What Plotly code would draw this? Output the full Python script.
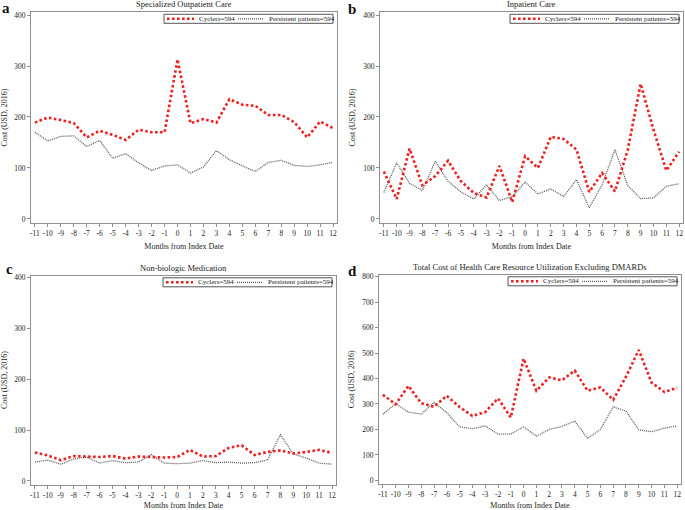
import plotly.graph_objects as go

months = list(range(-11, 13))
month_labels = [str(m) for m in months]

# Panel a: Specialized Outpatient Care
a_cyclers = [189, 199, 194, 188, 160, 173, 165, 155, 175, 170, 170, 313,
             188, 196, 189, 235, 224, 222, 204, 204, 190, 160, 191, 178]
a_persistent = [170, 153, 162, 163, 142, 154, 119, 128, 110, 95, 104, 106,
                90, 102, 134, 116, 104, 93, 111, 115, 105, 103, 106, 111]

# Panel b: Inpatient Care
b_cyclers = [93, 39, 138, 66, 84, 114, 74, 51, 42, 104, 33, 123,
             100, 161, 157, 136, 53, 90, 54, 136, 265, 175, 95, 132]
b_persistent = [52, 110, 70, 56, 113, 74, 53, 39, 67, 36, 44, 72,
                49, 59, 44, 77, 22, 67, 136, 65, 40, 41, 64, 69]

# Panel c: Non-biologic Medication
c_cyclers = [56, 50, 41, 49, 48, 47, 49, 44, 48, 47, 46, 47,
             61, 48, 49, 65, 70, 51, 57, 60, 54, 57, 61, 55]
c_persistent = [37, 41, 33, 43, 47, 35, 40, 36, 37, 52, 35, 34,
                35, 40, 36, 37, 35, 36, 41, 91, 53, 45, 35, 33]

# Panel d: Total Cost of Health Care Resource Utilization Excluding DMARDs
d_cyclers = [336, 299, 371, 303, 289, 332, 288, 253, 268, 322, 247, 478,
             352, 404, 393, 431, 352, 365, 316, 407, 512, 384, 347, 363]
d_persistent = [260, 301, 268, 260, 306, 266, 210, 203, 214, 182, 182, 210,
                174, 200, 212, 233, 165, 200, 289, 272, 199, 191, 205, 214]

series_names = ["Cyclers=594", "Persistent patients=594"]
panel_letters = ["a", "b", "c", "d"]
panel_titles = ["Specialized Outpatient Care", "Inpatient Care",
                "Non-biologic Medication",
                "Total Cost of Health Care Resource Utilization Excluding DMARDs"]
y_ticks_small = [0, 100, 200, 300, 400]
y_ticks_large = [0, 100, 200, 300, 400, 500, 600, 700, 800]

W, H = 685, 510
FONT = "Liberation Serif"
RED = "#ee2020"
GRAY = "#5a5a5a"
FRAME = "#8f8f8f"
TXT = "#222222"
RED_DASH = "2.6px,2.4px"


def fx(x):
    return x / W


def fy(y):
    return 1 - y / H


panels = [
    dict(cyc=a_cyclers, per=a_persistent, x0=31, x1=337, y0=12, y1=223,
         yr=[-8, 406], yt=y_ticks_small, lx=6, ly=8),
    dict(cyc=b_cyclers, per=b_persistent, x0=380, x1=683, y0=12, y1=223,
         yr=[-8, 406], yt=y_ticks_small, lx=352, ly=9),
    dict(cyc=c_cyclers, per=c_persistent, x0=31, x1=336, y0=275.5, y1=484.5,
         yr=[-7, 404], yt=y_ticks_small, lx=9, ly=269),
    dict(cyc=d_cyclers, per=d_persistent, x0=379, x1=681, y0=274.5, y1=484,
         yr=[-14, 808], yt=y_ticks_large, lx=352, ly=271),
]

fig = go.Figure()
shapes = []
annotations = []
layout_axes = {}

for i, p in enumerate(panels):
    n = "" if i == 0 else str(i + 1)
    xa, ya = "x" + n, "y" + n
    fig.add_trace(go.Scatter(
        x=months, y=p["per"], mode="lines", name=series_names[1],
        xaxis=xa, yaxis=ya, showlegend=False,
        line=dict(color=GRAY, width=1.3, dash="1px,1px")))
    fig.add_trace(go.Scatter(
        x=months, y=p["cyc"], mode="lines", name=series_names[0],
        xaxis=xa, yaxis=ya, showlegend=False,
        line=dict(color=RED, width=2.6, dash=RED_DASH)))

    common = dict(showline=True, mirror=True, linecolor=FRAME, linewidth=1,
                  ticks="outside", ticklen=3, tickcolor=FRAME, tickwidth=1,
                  showgrid=False, zeroline=False, automargin=False,
                  tickfont=dict(family=FONT, size=7.5, color=TXT))
    layout_axes["xaxis" + n] = dict(
        common, domain=[fx(p["x0"]), fx(p["x1"])], anchor=ya,
        range=[-11.3, 12.3], tickmode="array", tickvals=months,
        ticktext=month_labels,
        title=dict(text="Months from Index Date",
                   font=dict(family=FONT, size=8, color=TXT), standoff=6))
    layout_axes["yaxis" + n] = dict(
        common, domain=[fy(p["y1"]), fy(p["y0"])], anchor=xa,
        range=p["yr"], tickmode="array", tickvals=p["yt"],
        title=dict(text="Cost (USD, 2016)",
                   font=dict(family=FONT, size=8, color=TXT), standoff=6))

    # panel title
    annotations.append(dict(
        x=fx((p["x0"] + p["x1"]) / 2), y=fy(p["y0"] - 8), xref="paper",
        yref="paper", text=panel_titles[i], showarrow=False,
        xanchor="center", yanchor="middle",
        font=dict(family=FONT, size=8.5, color=TXT)))
    # panel letter
    annotations.append(dict(
        x=fx(p["lx"]), y=fy(p["ly"]), xref="paper", yref="paper",
        text="<b>" + panel_letters[i] + "</b>", showarrow=False,
        xanchor="center", yanchor="middle",
        font=dict(family=FONT, size=15, color="#111")))

    # legend box
    right = p["x1"] - 4
    left = right - 169
    top = p["y0"] + 2.3
    bot = top + 9
    mid = (top + bot) / 2
    shapes.append(dict(type="rect", xref="paper", yref="paper",
                       x0=fx(left), x1=fx(right), y0=fy(bot), y1=fy(top),
                       line=dict(color="#555", width=1), fillcolor="white"))
    shapes.append(dict(type="line", xref="paper", yref="paper",
                       x0=fx(left + 3), x1=fx(left + 30), y0=fy(mid), y1=fy(mid),
                       line=dict(color=RED, width=2.6, dash=RED_DASH)))
    shapes.append(dict(type="line", xref="paper", yref="paper",
                       x0=fx(left + 74), x1=fx(left + 100), y0=fy(mid), y1=fy(mid),
                       line=dict(color=GRAY, width=1.3, dash="1px,1px")))
    annotations.append(dict(
        x=fx(left + 33), y=fy(mid), xref="paper", yref="paper",
        text=series_names[0], showarrow=False, xanchor="left", yanchor="middle",
        font=dict(family=FONT, size=7, color=TXT)))
    annotations.append(dict(
        x=fx(left + 103), y=fy(mid), xref="paper", yref="paper",
        text=series_names[1], showarrow=False, xanchor="left", yanchor="middle",
        font=dict(family=FONT, size=7, color=TXT)))

fig.update_layout(
    width=W, height=H,
    margin=dict(l=0, r=0, t=0, b=0),
    paper_bgcolor="white", plot_bgcolor="white",
    showlegend=False, hovermode=False,
    font=dict(family=FONT, color=TXT),
    shapes=shapes, annotations=annotations,
    **layout_axes)

fig.write_html(
    "out.html",
    config={"displayModeBar": False, "staticPlot": True},
    post_script="document.body.style.margin='0';document.body.style.padding='0';"
                "document.body.style.overflow='hidden';")
